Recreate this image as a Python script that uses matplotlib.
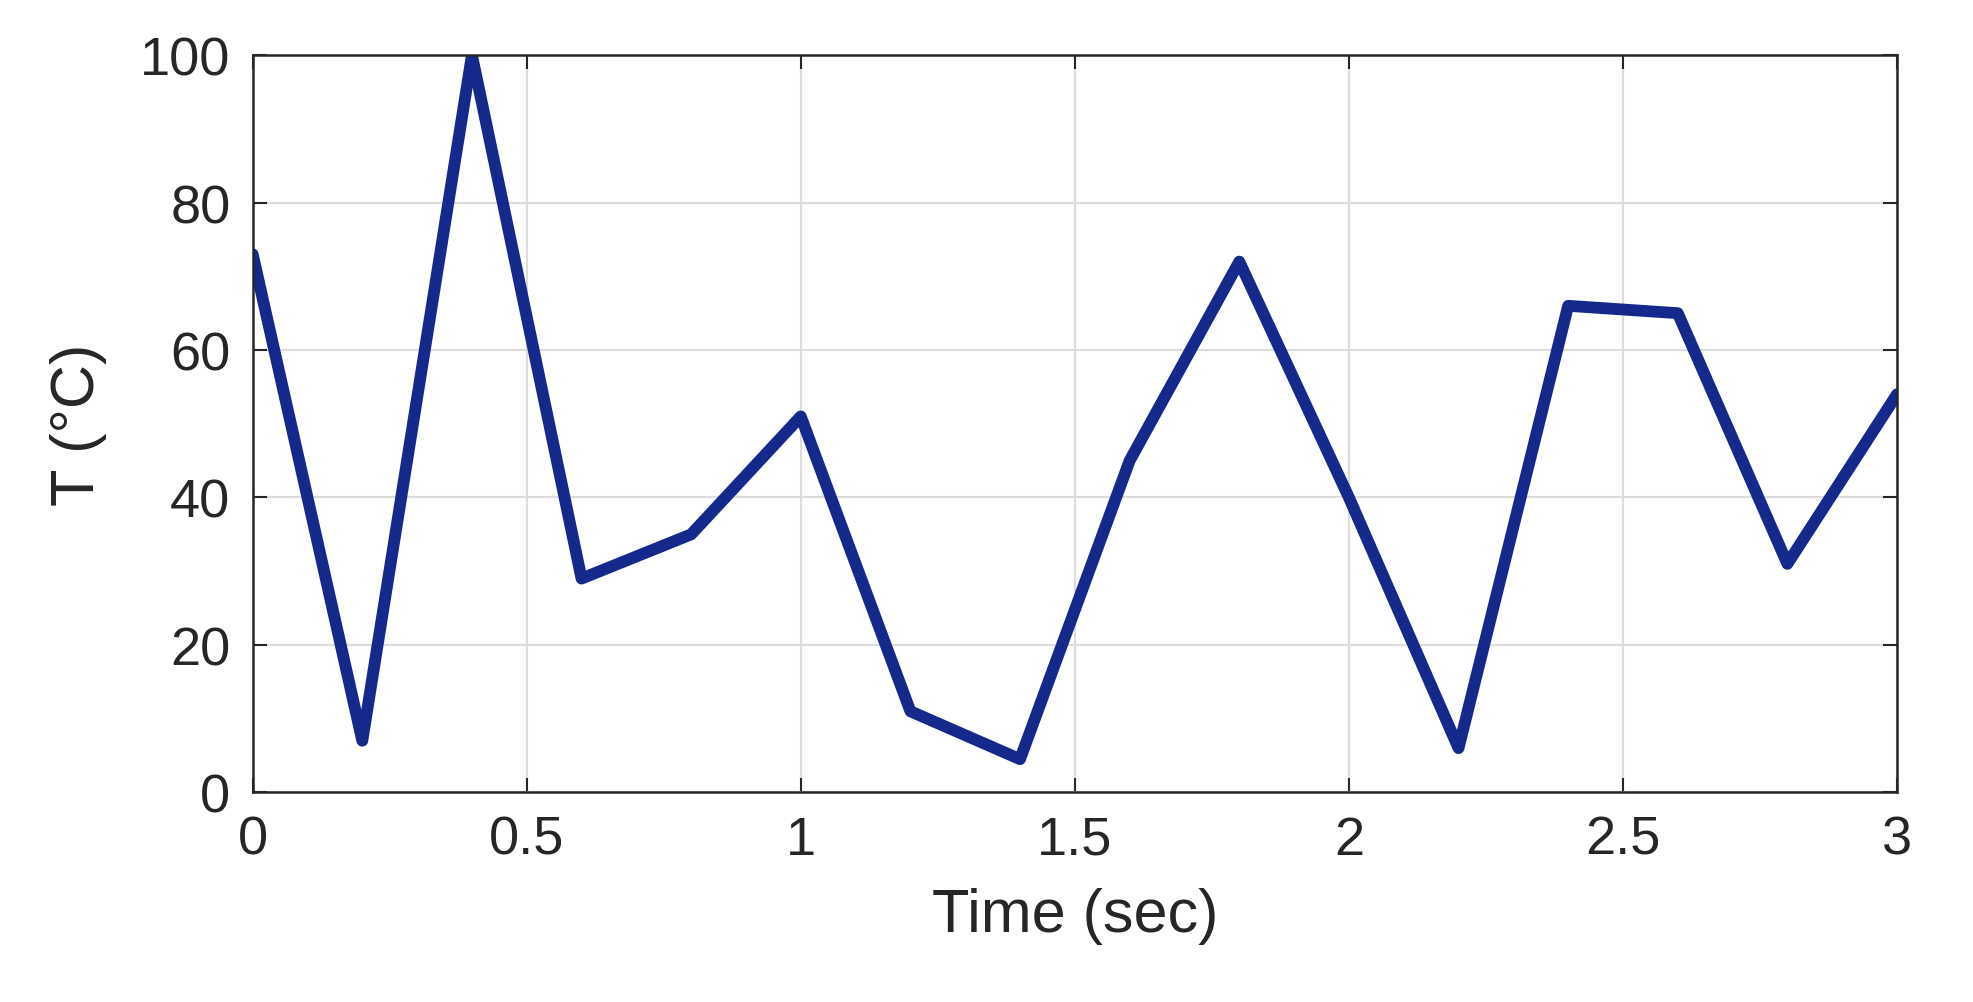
import matplotlib
matplotlib.use("Agg")
import matplotlib.pyplot as plt

time = [0, 0.2, 0.4, 0.6, 0.8, 1.0, 1.2, 1.4, 1.6, 1.8, 2.0, 2.2, 2.4, 2.6, 2.8, 3.0]
temp = [73, 7, 100, 29, 35, 51, 11, 4.5, 45, 72, 40, 6, 66, 65, 31, 54]
xticks = [0, 0.5, 1, 1.5, 2, 2.5, 3]
xticklabels = ["0", "0.5", "1", "1.5", "2", "2.5", "3"]
yticks = [0, 20, 40, 60, 80, 100]

plt.rcParams['font.family'] = ['Liberation Sans', 'DejaVu Sans']
fig = plt.figure(figsize=(19.74, 10.03), dpi=100)
ax = fig.add_axes([0.128, 0.209, 0.833, 0.735])
ax.plot(time, temp, color='#15298c', linewidth=8.5, solid_joinstyle='round',
        solid_capstyle='round')
ax.set_xlim(0, 3)
ax.set_ylim(0, 100)
ax.set_xticks(xticks)
ax.set_xticklabels(xticklabels)
ax.set_yticks(yticks)
ax.grid(True, color='#dcdcdc', linewidth=1.5)
ax.tick_params(direction='in', length=10, width=1.5, labelsize=39, top=True, right=True,
               colors='#262626', pad=16)
for s in ax.spines.values():
    s.set_linewidth(1.8)
    s.set_color('#262626')
ax.set_xlabel('Time (sec)', fontsize=44, color='#262626', labelpad=16)
ax.set_ylabel('T (°C)', fontsize=44, color='#262626', labelpad=24)
fig.savefig('out.png', dpi=100, facecolor='white')
